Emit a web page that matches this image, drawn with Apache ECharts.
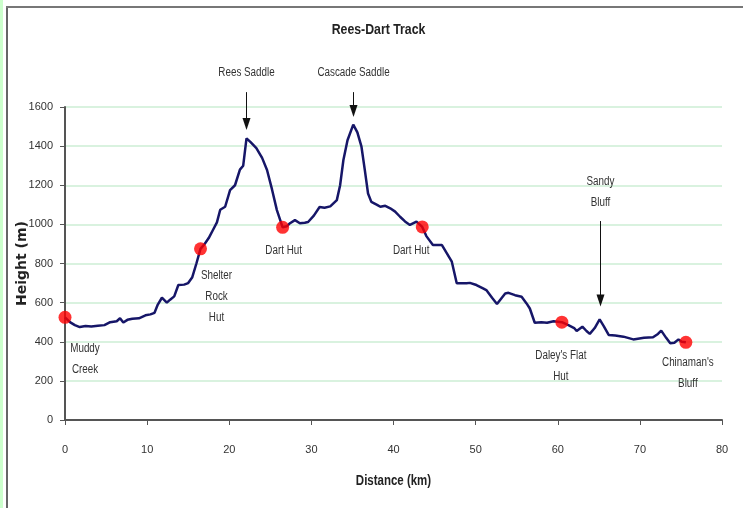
<!DOCTYPE html>
<html>
<head>
<meta charset="utf-8">
<script src="https://cdn.jsdelivr.net/npm/echarts@6/dist/echarts.min.js"></script>
<style>
html,body{margin:0;padding:0;background:#fff;}
#chart{width:743px;height:508px;}
</style>
</head>
<body>
<div id="chart"></div>
<script>
// Elevation profile (distance km, height m)
const distanceKm = [0,0.6,1.2,1.8,2.5,3.2,4.0,4.8,5.5,6.3,6.7,7.1,7.6,8.2,9.0,9.8,10.4,10.9,11.3,11.8,12.4,12.8,13.3,13.8,14.5,15.0,15.5,16.0,16.5,17.0,17.5,18.0,18.5,18.9,19.5,20.1,20.7,21.3,21.7,22.1,22.6,23.3,24.0,24.6,25.2,25.8,26.5,27.0,27.4,28.0,28.6,29.2,29.6,30.3,31.0,31.6,32.3,33.1,33.5,33.9,34.4,35.1,35.6,36.1,36.5,36.9,37.3,38.0,38.4,39.0,39.6,40.2,40.8,41.4,42.0,42.8,43.5,44.0,44.8,45.9,46.5,47.1,47.7,48.9,49.3,50.1,50.9,51.3,52.0,52.6,53.1,53.6,54.0,54.8,55.6,56.2,56.6,57.2,58.0,58.7,59.5,60.5,61.3,62.0,62.3,63.0,63.5,63.9,64.5,65.1,65.6,66.2,67.0,68.0,69.2,70.5,71.6,72.2,72.6,73.2,73.7,74.2,74.7,75.1,75.6];
const heightM = [525,500,485,475,480,478,482,485,500,505,520,498,512,518,520,535,540,548,590,625,600,615,632,690,692,700,730,800,875,900,930,970,1010,1075,1090,1175,1200,1280,1300,1440,1420,1390,1340,1278,1180,1073,985,990,1006,1022,1006,1008,1012,1045,1089,1085,1092,1124,1200,1329,1430,1510,1470,1397,1280,1158,1115,1100,1090,1095,1082,1065,1039,1015,997,1014,987,940,894,894,852,809,699,699,701,690,673,664,625,593,620,647,650,638,630,596,570,497,500,497,505,500,485,470,455,477,455,440,470,514,480,435,432,426,412,420,423,440,457,420,392,395,412,400,397];

// Huts / landmarks (red dots)
const hutNames = ['Muddy\nCreek','Shelter\nRock\nHut','Dart Hut','Dart Hut',"Daley's Flat\nHut","Chinaman's\nBluff"];
const hutKm = [0,16.5,26.5,43.5,60.5,75.6];
const hutHeight = [525,875,985,987,500,397];

// Arrow annotations
const arrowNames = ['Rees Saddle','Cascade Saddle','Sandy\nBluff'];
const arrowKm = [22.1,35.1,65.1];
const arrowTipH = [1482,1549,580];
const arrowTailH = [1676,1676,1017];
const arrowLabelH = [1774,1774,1113];

// Axis ticks
const xTicks = {min:0,max:80,interval:10};
const yTicks = {min:0,max:1600,interval:200};

const TITLE = 'Rees-Dart Track';
const X_NAME = 'Distance (km)';
const Y_NAME = 'Height (m)';

const SANS = '"Liberation Sans",Arial,sans-serif';
const SX = 0.82; // horizontal squeeze to mimic the narrow lettering
// pixel offsets of hut labels (first-line centre relative to dot)
const hutLabelOffsets = [[20,31],[16,27],[1,23],[-11,24],[-1,33],[2,20]];

const chart = echarts.init(document.getElementById('chart'), null, {renderer:'canvas'});

const profile = distanceKm.map((d,i)=>[d,heightM[i]]);
const huts = hutKm.map((d,i)=>({value:[d,hutHeight[i]],name:hutNames[i]}));

chart.setOption({
  backgroundColor:'#ffffff',
  animation:false,
  grid:{left:65,right:21,top:107,bottom:88,containLabel:false,outerBoundsMode:'none'},
  xAxis:{
    type:'value', min:xTicks.min, max:xTicks.max, interval:xTicks.interval,
    axisLine:{show:true,onZero:false,lineStyle:{color:'#555',width:2}},
    axisTick:{show:true,length:5,lineStyle:{color:'#555'}},
    axisLabel:{color:'#333',fontFamily:SANS,fontSize:11,margin:24},
    splitLine:{show:false}
  },
  yAxis:{
    type:'value', min:yTicks.min, max:yTicks.max, interval:yTicks.interval,
    name:Y_NAME, nameLocation:'middle', nameGap:36, nameMoveOverlap:false,
    nameTextStyle:{fontFamily:'"DejaVu Sans",Verdana,sans-serif',fontWeight:'bold',fontSize:14,color:'#222'},
    axisLine:{show:true,lineStyle:{color:'#555',width:2}},
    axisTick:{show:true,length:5,lineStyle:{color:'#555'}},
    axisLabel:{color:'#333',fontFamily:SANS,fontSize:11,margin:12,formatter:v=>String(v)},
    splitLine:{show:true,lineStyle:{color:'#cdeed5',width:1.5}}
  },
  series:[
    {
      type:'line', data:profile, showSymbol:false, symbol:'none',
      lineStyle:{color:'#161668',width:2.5}, z:3
    },
    {
      type:'scatter', data:huts, symbol:'circle', symbolSize:13,
      itemStyle:{color:'#ff0000'}, z:5
    }
  ]
});

function txt(x,y,text,opts){
  return Object.assign({type:'text',x:x,y:y,scaleX:SX,silent:true,z:10,style:Object.assign({
    text:text,fontFamily:SANS,fontSize:12,fill:'#333',lineHeight:21,textAlign:'center'
  },opts||{})});
}

function buildGraphics(){
  const g = [];
  // page frame
  g.push({type:'rect',shape:{x:0,y:0,width:3,height:508},style:{fill:'#ccffcc'},silent:true});
  g.push({type:'rect',shape:{x:6,y:6,width:2,height:502},style:{fill:'#666'},silent:true});
  g.push({type:'rect',shape:{x:6,y:6,width:737,height:2},style:{fill:'#777'},silent:true});
  // title
  g.push(txt(378.5,30,TITLE,{fontSize:15,fontWeight:'bold',fill:'#222',textVerticalAlign:'middle',lineHeight:18}));
  // x axis name
  const mid = chart.convertToPixel({gridIndex:0},[(xTicks.min+xTicks.max)/2,0]);
  g.push(txt(mid[0],mid[1]+61,X_NAME,{fontSize:14,fontWeight:'bold',fill:'#222',textVerticalAlign:'middle',lineHeight:16}));
  // arrows
  arrowNames.forEach((name,i)=>{
    const tip = chart.convertToPixel({gridIndex:0},[arrowKm[i],arrowTipH[i]]);
    const tail = chart.convertToPixel({gridIndex:0},[arrowKm[i],arrowTailH[i]]);
    const lab = chart.convertToPixel({gridIndex:0},[arrowKm[i],arrowLabelH[i]]);
    const x = Math.round(tip[0])+0.5;
    g.push({type:'line',shape:{x1:x,y1:tail[1],x2:x,y2:tip[1]-10},style:{stroke:'#111',lineWidth:1},silent:true});
    g.push({type:'polygon',shape:{points:[[x-4,tip[1]-12],[x+4,tip[1]-12],[x,tip[1]]]},style:{fill:'#111'},silent:true});
    g.push(txt(x,lab[1]+10.5,name,{textVerticalAlign:'bottom'}));
  });
  // hut labels
  hutNames.forEach((name,i)=>{
    const p = chart.convertToPixel({gridIndex:0},[hutKm[i],hutHeight[i]]);
    const o = hutLabelOffsets[i];
    g.push(txt(p[0]+o[0],p[1]+o[1]-10.5,name,{textVerticalAlign:'top'}));
  });
  return g;
}
chart.setOption({graphic:buildGraphics()});
</script>
</body>
</html>
